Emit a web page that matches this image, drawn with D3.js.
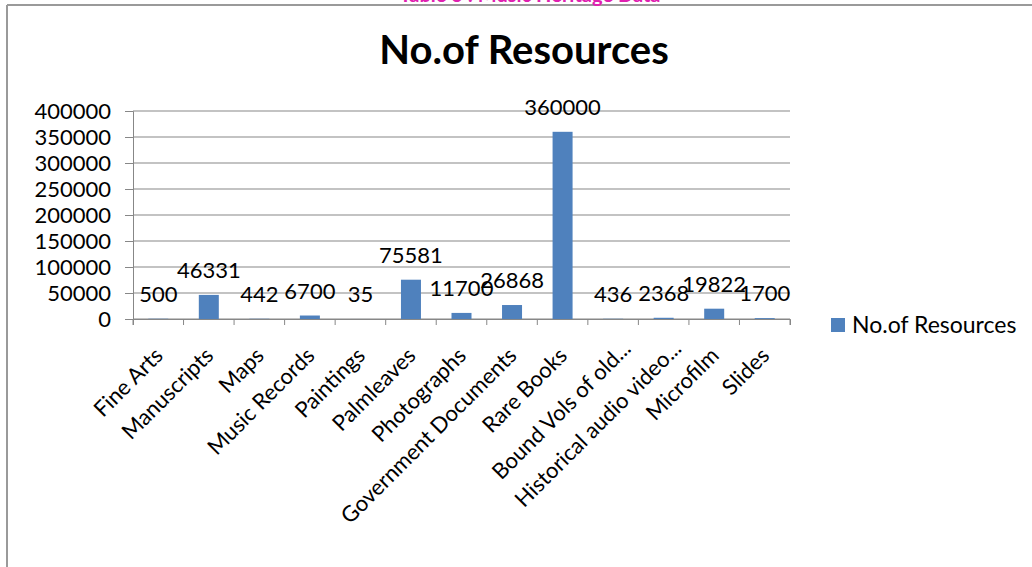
<!DOCTYPE html>
<html>
<head>
<meta charset="utf-8">
<script src="https://cdn.jsdelivr.net/npm/d3@7"></script>
<style>
  body { margin: 0; background: #fff; }
  svg { display: block; font-family: Lato, 'Open Sans', sans-serif; }
</style>
</head>
<body>
<div id="chart"></div>
<script>
const categories = ['Fine Arts', 'Manuscripts', 'Maps', 'Music Records', 'Paintings', 'Palmleaves',
  'Photographs', 'Government Documents', 'Rare Books', 'Bound Vols of old...',
  'Historical audio video...', 'Microfilm', 'Slides']
const values = [500, 46331, 442, 6700, 35, 75581, 11700, 26868, 360000, 436, 2368, 19822, 1700]
const yTicks = [0, 50000, 100000, 150000, 200000, 250000, 300000, 350000, 400000]
const seriesName = 'No.of Resources'

const W = 1032
const H = 567
const margin = { top: 111, left: 133, right: 242, bottom: 248 }
const width = W - margin.left - margin.right
const height = H - margin.top - margin.bottom

const svg = d3.select('#chart').append('svg')
  .attr('width', W)
  .attr('height', H)

// outer frame (left + top only visible)
svg.append('line').attr('x1', 7).attr('x2', 7).attr('y1', 5).attr('y2', H)
  .attr('stroke', '#9a9a9a').attr('stroke-width', 2)
svg.append('line').attr('x1', 7).attr('x2', W).attr('y1', 5).attr('y2', 5)
  .attr('stroke', '#9a9a9a').attr('stroke-width', 2)

// cut-off heading above the frame
svg.append('text')
  .attr('x', 530).attr('y', 2)
  .attr('text-anchor', 'middle')
  .attr('fill', '#e020b0')
  .attr('font-weight', 'bold')
  .attr('font-size', 20)
  .text('Table 3 : Music Heritage Data')

svg.append('text')
  .attr('x', 524).attr('y', 64)
  .attr('text-anchor', 'middle')
  .attr('font-weight', 'bold')
  .attr('font-size', 40)
  .text(seriesName)

const g = svg.append('g')
  .attr('transform', 'translate(' + margin.left + ',' + margin.top + ')')

const x = d3.scaleBand().domain(categories).range([0, width]).paddingInner(0).paddingOuter(0)
const y = d3.scaleLinear().domain([0, 400000]).range([height, 0])

// gridlines
g.selectAll('.grid').data(yTicks).enter().append('line')
  .attr('x1', 0).attr('x2', width)
  .attr('y1', d => y(d)).attr('y2', d => y(d))
  .attr('stroke', '#878787').attr('stroke-width', 1)

const barW = 20
g.selectAll('rect').data(values).enter().append('rect')
  .attr('x', (d, i) => x(categories[i]) + x.bandwidth() / 2 - barW / 2)
  .attr('y', d => y(d))
  .attr('width', barW)
  .attr('height', d => height - y(d))
  .attr('fill', '#4f81bd')

// y axis
const yAxis = d3.axisLeft(y).tickValues(yTicks).tickSize(8).tickPadding(14).tickFormat(d3.format('d'))
g.append('g').attr('class', 'axis y-axis').call(yAxis)

// x axis
const xAxis = d3.axisBottom(x).tickSize(6).tickFormat('')
const xg = g.append('g').attr('class', 'axis x-axis')
  .attr('transform', 'translate(0,' + height + ')')
  .call(xAxis)
xg.selectAll('.tick line').attr('transform', 'translate(' + (-x.bandwidth() / 2) + ',0)')
xg.append('line')
  .attr('x1', width).attr('x2', width).attr('y1', 0).attr('y2', 6)
  .attr('stroke', '#878787')

g.selectAll('.axis path, .axis line').attr('stroke', '#878787')
g.selectAll('.axis text').attr('fill', '#000').attr('font-size', 22).attr('font-family', 'Lato, sans-serif')

// rotated category labels (truncated ones sit a bit further right, like Excel does)
g.selectAll('.xlab').data(categories).enter().append('text')
  .attr('class', 'xlab')
  .attr('text-anchor', 'end')
  .attr('font-size', 22)
  .attr('transform', d => {
    const cut = d.endsWith('...')
    const dx = cut ? 19 : 6
    const dy = cut ? 31 : 38
    return 'translate(' + (x(d) + x.bandwidth() / 2 + dx) + ',' + (height + dy) + ') rotate(-45)'
  })
  .text(d => d)

// data labels
g.selectAll('.vlab').data(values).enter().append('text')
  .attr('class', 'vlab')
  .attr('text-anchor', 'middle')
  .attr('font-size', 22)
  .attr('x', (d, i) => x(categories[i]) + x.bandwidth() / 2)
  .attr('y', d => y(d) - 17)
  .text(d => d)

// legend
const lg = svg.append('g').attr('transform', 'translate(831,318)')
lg.append('rect').attr('width', 14).attr('height', 14).attr('fill', '#4f81bd')
lg.append('text').attr('x', 21).attr('y', 15).attr('font-size', 23).text(seriesName)
</script>
</body>
</html>
